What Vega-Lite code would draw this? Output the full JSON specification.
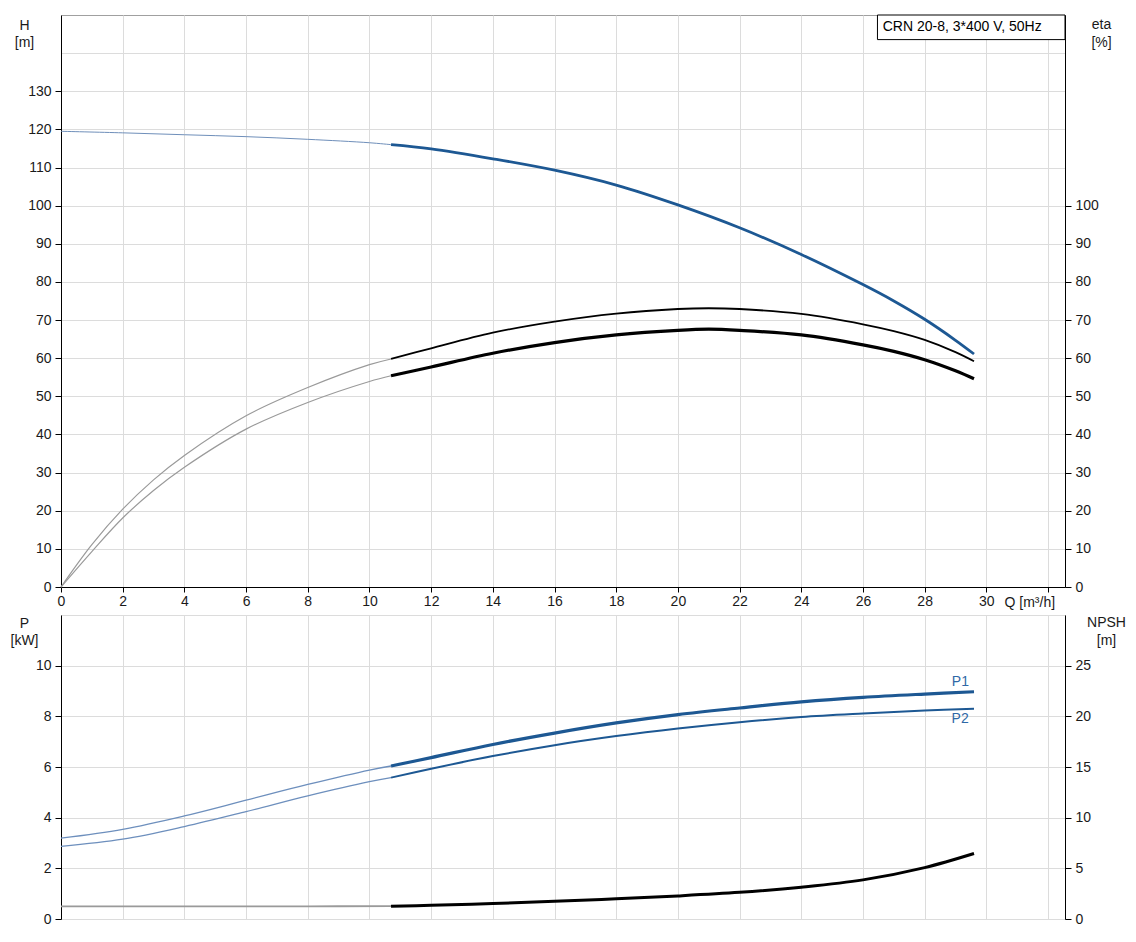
{
  "$schema": "https://vega.github.io/schema/vega-lite/v6.json",
  "background": "white",
  "padding": {"left": 9, "top": 14, "right": 5, "bottom": 5},
  "datasets": {
    "curves": [
      {"s":"H","g":"ext","q":0,"v":119.5},{"s":"H","g":"ext","q":2,"v":119.1},{"s":"H","g":"ext","q":4,"v":118.6},{"s":"H","g":"ext","q":6,"v":118.1},{"s":"H","g":"ext","q":8,"v":117.4},{"s":"H","g":"ext","q":10,"v":116.5},{"s":"H","g":"ext","q":10.7,"v":116.0},
      {"s":"H","g":"op","q":10.7,"v":116.0},{"s":"H","g":"op","q":12,"v":114.9},{"s":"H","g":"op","q":14,"v":112.3},{"s":"H","g":"op","q":16,"v":109.3},{"s":"H","g":"op","q":18,"v":105.4},{"s":"H","g":"op","q":20,"v":100.2},{"s":"H","g":"op","q":22,"v":94.2},{"s":"H","g":"op","q":24,"v":87.2},{"s":"H","g":"op","q":26,"v":79.3},{"s":"H","g":"op","q":27,"v":75.0},{"s":"H","g":"op","q":28,"v":70.2},{"s":"H","g":"op","q":29,"v":64.7},{"s":"H","g":"op","q":29.6,"v":61.1},
      {"s":"E1","g":"ext","q":0,"v":0},{"s":"E1","g":"ext","q":1,"v":11.1},{"s":"E1","g":"ext","q":2,"v":20.4},{"s":"E1","g":"ext","q":3,"v":28.1},{"s":"E1","g":"ext","q":4,"v":34.5},{"s":"E1","g":"ext","q":6,"v":44.9},{"s":"E1","g":"ext","q":8,"v":52.3},{"s":"E1","g":"ext","q":10,"v":58.3},{"s":"E1","g":"ext","q":10.7,"v":59.8},
      {"s":"E1","g":"op","q":10.7,"v":59.8},{"s":"E1","g":"op","q":12,"v":62.6},{"s":"E1","g":"op","q":14,"v":66.7},{"s":"E1","g":"op","q":16,"v":69.6},{"s":"E1","g":"op","q":18,"v":71.7},{"s":"E1","g":"op","q":20,"v":72.9},{"s":"E1","g":"op","q":21,"v":73.1},{"s":"E1","g":"op","q":22,"v":72.9},{"s":"E1","g":"op","q":24,"v":71.6},{"s":"E1","g":"op","q":26,"v":68.9},{"s":"E1","g":"op","q":27,"v":67.1},{"s":"E1","g":"op","q":28,"v":64.8},{"s":"E1","g":"op","q":29,"v":61.6},{"s":"E1","g":"op","q":29.6,"v":59.2},
      {"s":"E2","g":"ext","q":0,"v":0},{"s":"E2","g":"ext","q":1,"v":9.3},{"s":"E2","g":"ext","q":2,"v":18.1},{"s":"E2","g":"ext","q":3,"v":25.3},{"s":"E2","g":"ext","q":4,"v":31.4},{"s":"E2","g":"ext","q":6,"v":41.4},{"s":"E2","g":"ext","q":8,"v":48.4},{"s":"E2","g":"ext","q":10,"v":53.9},{"s":"E2","g":"ext","q":10.7,"v":55.4},
      {"s":"E2","g":"op","q":10.7,"v":55.4},{"s":"E2","g":"op","q":12,"v":57.7},{"s":"E2","g":"op","q":14,"v":61.3},{"s":"E2","g":"op","q":16,"v":64.1},{"s":"E2","g":"op","q":18,"v":66.1},{"s":"E2","g":"op","q":20,"v":67.3},{"s":"E2","g":"op","q":21,"v":67.6},{"s":"E2","g":"op","q":22,"v":67.3},{"s":"E2","g":"op","q":24,"v":66.1},{"s":"E2","g":"op","q":26,"v":63.5},{"s":"E2","g":"op","q":27,"v":61.8},{"s":"E2","g":"op","q":28,"v":59.6},{"s":"E2","g":"op","q":29,"v":56.7},{"s":"E2","g":"op","q":29.6,"v":54.6},
      {"s":"P1","g":"ext","q":0,"v":3.19},{"s":"P1","g":"ext","q":2,"v":3.54},{"s":"P1","g":"ext","q":4,"v":4.07},{"s":"P1","g":"ext","q":6,"v":4.69},{"s":"P1","g":"ext","q":8,"v":5.31},{"s":"P1","g":"ext","q":10,"v":5.88},{"s":"P1","g":"ext","q":10.7,"v":6.04},
      {"s":"P1","g":"op","q":10.7,"v":6.04},{"s":"P1","g":"op","q":12,"v":6.37},{"s":"P1","g":"op","q":14,"v":6.89},{"s":"P1","g":"op","q":16,"v":7.34},{"s":"P1","g":"op","q":18,"v":7.74},{"s":"P1","g":"op","q":20,"v":8.07},{"s":"P1","g":"op","q":22,"v":8.33},{"s":"P1","g":"op","q":24,"v":8.57},{"s":"P1","g":"op","q":26,"v":8.75},{"s":"P1","g":"op","q":28,"v":8.88},{"s":"P1","g":"op","q":29.6,"v":8.97},
      {"s":"P2","g":"ext","q":0,"v":2.87},{"s":"P2","g":"ext","q":2,"v":3.15},{"s":"P2","g":"ext","q":4,"v":3.65},{"s":"P2","g":"ext","q":6,"v":4.24},{"s":"P2","g":"ext","q":8,"v":4.86},{"s":"P2","g":"ext","q":10,"v":5.42},{"s":"P2","g":"ext","q":10.7,"v":5.58},
      {"s":"P2","g":"op","q":10.7,"v":5.58},{"s":"P2","g":"op","q":12,"v":5.93},{"s":"P2","g":"op","q":14,"v":6.43},{"s":"P2","g":"op","q":16,"v":6.86},{"s":"P2","g":"op","q":18,"v":7.22},{"s":"P2","g":"op","q":20,"v":7.52},{"s":"P2","g":"op","q":22,"v":7.77},{"s":"P2","g":"op","q":24,"v":7.97},{"s":"P2","g":"op","q":26,"v":8.11},{"s":"P2","g":"op","q":28,"v":8.23},{"s":"P2","g":"op","q":29.6,"v":8.30},
      {"s":"N","g":"ext","q":0,"v":1.25},{"s":"N","g":"ext","q":4,"v":1.24},{"s":"N","g":"ext","q":8,"v":1.25},{"s":"N","g":"ext","q":10.7,"v":1.27},
      {"s":"N","g":"op","q":10.7,"v":1.27},{"s":"N","g":"op","q":12,"v":1.35},{"s":"N","g":"op","q":14,"v":1.52},{"s":"N","g":"op","q":16,"v":1.74},{"s":"N","g":"op","q":18,"v":2.0},{"s":"N","g":"op","q":20,"v":2.28},{"s":"N","g":"op","q":22,"v":2.63},{"s":"N","g":"op","q":24,"v":3.14},{"s":"N","g":"op","q":26,"v":3.86},{"s":"N","g":"op","q":28,"v":5.07},{"s":"N","g":"op","q":29.6,"v":6.46}
    ],
    "box": [{"q1": 26.47, "q2": 32.55, "h1": 143.55, "h2": 150, "tq": 26.64, "th": 145.8, "label": "CRN 20-8, 3*400 V, 50Hz"}],
    "plabels": [{"label": "P1", "q": 29.16, "p": 9.21}, {"label": "P2", "q": 29.15, "p": 7.72}]
  },
  "vconcat": [
    {
      "width": 1004,
      "height": 572,
      "layer": [
        {
          "layer": [
            {
              "data": {"name": "curves"},
              "transform": [{"filter": "datum.s === 'H' && datum.g === 'ext'"}],
              "mark": {"type": "line", "color": "#6f8fba", "strokeWidth": 1, "interpolate": "catmull-rom"},
              "encoding": {
                "x": {"field": "q", "type": "quantitative", "scale": {"domain": [0, 32.55], "nice": false, "zero": false},
                  "axis": {"values": [0,2,4,6,8,10,12,14,16,18,20,22,24,26,28,30,32], "labelExpr": "datum.value > 31 ? '' : datum.label", "labelOverlap": false, "grid": true, "tickSize": 5, "labelPadding": 2, "title": "Q [m³/h]", "titleAngle": 0, "titleAlign": "left", "titleBaseline": "alphabetic", "titleX": 943, "titleY": 19}},
                "y": {"field": "v", "type": "quantitative", "scale": {"domain": [0, 150], "nice": false, "zero": false},
                  "axis": {"values": [0,10,20,30,40,50,60,70,80,90,100,110,120,130], "tickCount": 15, "labelOverlap": false, "grid": true, "title": ["H", "[m]"], "titleAngle": 0, "titleAlign": "center", "titleBaseline": "alphabetic", "titleX": -37, "titleY": 14, "titleLineHeight": 17}}
              }
            },
            {
              "data": {"name": "curves"},
              "transform": [{"filter": "datum.s === 'H' && datum.g === 'op'"}],
              "mark": {"type": "line", "color": "#1d5893", "strokeWidth": 2.8, "interpolate": "catmull-rom"},
              "encoding": {
                "x": {"field": "q", "type": "quantitative", "scale": {"domain": [0, 32.55], "nice": false, "zero": false}},
                "y": {"field": "v", "type": "quantitative", "scale": {"domain": [0, 150], "nice": false, "zero": false}}
              }
            }
          ]
        },
        {
          "layer": [
            {
              "data": {"name": "curves"},
              "transform": [{"filter": "(datum.s === 'E1' || datum.s === 'E2') && datum.g === 'ext'"}],
              "mark": {"type": "line", "color": "#9a9a9a", "strokeWidth": 1.2, "interpolate": "catmull-rom"},
              "encoding": {
                "x": {"field": "q", "type": "quantitative", "scale": {"domain": [0, 32.55], "nice": false, "zero": false}},
                "y": {"field": "v", "type": "quantitative", "scale": {"domain": [0, 150], "nice": false, "zero": false},
                  "axis": {"orient": "right", "values": [0,10,20,30,40,50,60,70,80,90,100,140], "labelExpr": "datum.value > 100 ? '' : datum.label", "tickOpacity": {"condition": {"test": "datum.value > 100", "value": 0}, "value": 1}, "labelOverlap": false, "grid": true, "title": ["eta", "[%]"], "titleAngle": 0, "titleAlign": "center", "titleBaseline": "alphabetic", "titleX": 36, "titleY": 13, "titleLineHeight": 18}},
                "detail": {"field": "s"}
              }
            },
            {
              "data": {"name": "curves"},
              "transform": [{"filter": "datum.s === 'E1' && datum.g === 'op'"}],
              "mark": {"type": "line", "color": "#000", "strokeWidth": 1.8, "interpolate": "catmull-rom"},
              "encoding": {
                "x": {"field": "q", "type": "quantitative", "scale": {"domain": [0, 32.55], "nice": false, "zero": false}},
                "y": {"field": "v", "type": "quantitative", "scale": {"domain": [0, 150], "nice": false, "zero": false}}
              }
            },
            {
              "data": {"name": "curves"},
              "transform": [{"filter": "datum.s === 'E2' && datum.g === 'op'"}],
              "mark": {"type": "line", "color": "#000", "strokeWidth": 3.2, "interpolate": "catmull-rom"},
              "encoding": {
                "x": {"field": "q", "type": "quantitative", "scale": {"domain": [0, 32.55], "nice": false, "zero": false}},
                "y": {"field": "v", "type": "quantitative", "scale": {"domain": [0, 150], "nice": false, "zero": false}}
              }
            },
            {
              "data": {"name": "box"},
              "mark": {"type": "rect", "fill": "white", "stroke": "#000", "strokeWidth": 1},
              "encoding": {
                "x": {"field": "q1", "type": "quantitative", "scale": {"domain": [0, 32.55], "nice": false, "zero": false}},
                "x2": {"field": "q2"},
                "y": {"field": "h1", "type": "quantitative", "scale": {"domain": [0, 150], "nice": false, "zero": false}},
                "y2": {"field": "h2"}
              }
            },
            {
              "data": {"name": "box"},
              "mark": {"type": "text", "align": "left", "baseline": "alphabetic", "fontSize": 14, "color": "#000"},
              "encoding": {
                "x": {"field": "tq", "type": "quantitative", "scale": {"domain": [0, 32.55], "nice": false, "zero": false}},
                "y": {"field": "th", "type": "quantitative", "scale": {"domain": [0, 150], "nice": false, "zero": false}},
                "text": {"field": "label"}
              }
            }
          ]
        }
      ],
      "resolve": {"scale": {"y": "independent"}}
    },
    {
      "width": 1004,
      "height": 304,
      "layer": [
        {
          "layer": [
            {
              "data": {"name": "curves"},
              "transform": [{"filter": "(datum.s === 'P1' || datum.s === 'P2') && datum.g === 'ext'"}],
              "mark": {"type": "line", "color": "#6d8fbd", "strokeWidth": 1.3, "interpolate": "catmull-rom"},
              "encoding": {
                "x": {"field": "q", "type": "quantitative", "scale": {"domain": [0, 32.55], "nice": false, "zero": false},
                  "axis": {"values": [0,2,4,6,8,10,12,14,16,18,20,22,24,26,28,30,32], "grid": true, "labels": false, "ticks": false, "domain": false, "title": null}},
                "y": {"field": "v", "type": "quantitative", "scale": {"domain": [0, 12], "nice": false, "zero": false},
                  "axis": {"values": [0,2,4,6,8,10,12], "labelExpr": "datum.value > 10 ? '' : datum.label", "labelOverlap": false, "tickOpacity": {"condition": {"test": "datum.value > 10", "value": 0}, "value": 1}, "grid": true, "title": ["P", "[kW]"], "titleAngle": 0, "titleAlign": "center", "titleBaseline": "alphabetic", "titleX": -37, "titleY": 12, "titleLineHeight": 17}},
                "detail": {"field": "s"}
              }
            },
            {
              "data": {"name": "curves"},
              "transform": [{"filter": "datum.s === 'P1' && datum.g === 'op'"}],
              "mark": {"type": "line", "color": "#1d5893", "strokeWidth": 3.2, "interpolate": "catmull-rom"},
              "encoding": {
                "x": {"field": "q", "type": "quantitative", "scale": {"domain": [0, 32.55], "nice": false, "zero": false}},
                "y": {"field": "v", "type": "quantitative", "scale": {"domain": [0, 12], "nice": false, "zero": false}}
              }
            },
            {
              "data": {"name": "curves"},
              "transform": [{"filter": "datum.s === 'P2' && datum.g === 'op'"}],
              "mark": {"type": "line", "color": "#1d5893", "strokeWidth": 2, "interpolate": "catmull-rom"},
              "encoding": {
                "x": {"field": "q", "type": "quantitative", "scale": {"domain": [0, 32.55], "nice": false, "zero": false}},
                "y": {"field": "v", "type": "quantitative", "scale": {"domain": [0, 12], "nice": false, "zero": false}}
              }
            },
            {
              "data": {"name": "plabels"},
              "mark": {"type": "text", "align": "center", "baseline": "alphabetic", "fontSize": 14, "color": "#2f68a6"},
              "encoding": {
                "x": {"field": "q", "type": "quantitative", "scale": {"domain": [0, 32.55], "nice": false, "zero": false}},
                "y": {"field": "p", "type": "quantitative", "scale": {"domain": [0, 12], "nice": false, "zero": false}},
                "text": {"field": "label"}
              }
            }
          ]
        },
        {
          "layer": [
            {
              "data": {"name": "curves"},
              "transform": [{"filter": "datum.s === 'N' && datum.g === 'ext'"}],
              "mark": {"type": "line", "color": "#9a9a9a", "strokeWidth": 1.8, "interpolate": "catmull-rom"},
              "encoding": {
                "x": {"field": "q", "type": "quantitative", "scale": {"domain": [0, 32.55], "nice": false, "zero": false}},
                "y": {"field": "v", "type": "quantitative", "scale": {"domain": [0, 30], "nice": false, "zero": false},
                  "axis": {"orient": "right", "values": [0,5,10,15,20,25], "labelOverlap": false, "grid": false, "title": ["NPSH", "[m]"], "titleAngle": 0, "titleAlign": "center", "titleBaseline": "alphabetic", "titleX": 41, "titleY": 11, "titleLineHeight": 18}}
              }
            },
            {
              "data": {"name": "curves"},
              "transform": [{"filter": "datum.s === 'N' && datum.g === 'op'"}],
              "mark": {"type": "line", "color": "#000", "strokeWidth": 3, "interpolate": "catmull-rom"},
              "encoding": {
                "x": {"field": "q", "type": "quantitative", "scale": {"domain": [0, 32.55], "nice": false, "zero": false}},
                "y": {"field": "v", "type": "quantitative", "scale": {"domain": [0, 30], "nice": false, "zero": false}}
              }
            }
          ]
        }
      ],
      "resolve": {"scale": {"y": "independent"}}
    }
  ],
  "spacing": 28,
  "bounds": "flush",
  "config": {
    "font": "Liberation Sans",
    "view": {"stroke": "#a0a0a0", "strokeWidth": 1},
    "axis": {
      "labelFont": "Liberation Sans",
      "labelFontSize": 14,
      "labelColor": "#1a1a1a",
      "labelFlush": false,
      "labelOverlap": false,
      "labelPadding": 4,
      "titleFont": "Liberation Sans",
      "titleFontSize": 14,
      "titleFontWeight": "normal",
      "titleColor": "#1a1a1a",
      "domainColor": "#000",
      "domainWidth": 1,
      "tickColor": "#000",
      "tickSize": 6,
      "gridColor": "#dcdcdc",
      "gridWidth": 1
    }
  }
}
